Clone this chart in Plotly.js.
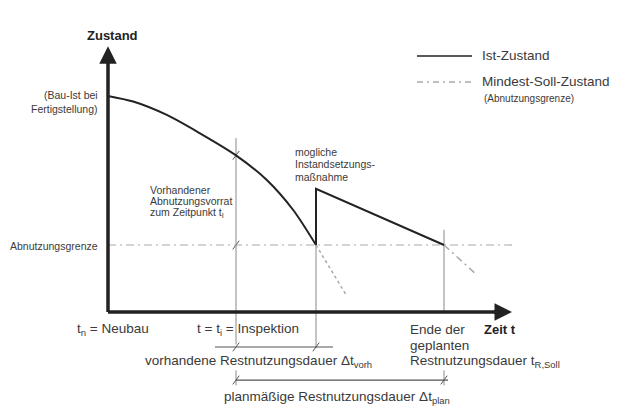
<!DOCTYPE html>
<html>
<head>
<meta charset="utf-8">
<script src="https://cdn.plot.ly/plotly-3.0.1.min.js"></script>
<style>html,body{margin:0;padding:0;background:#fff;}#chart{width:624px;height:417px;}</style>
</head>
<body>
<div id="chart"></div>
<script>
// ---- data (time t, state Z; schematic units) ----
const tNeubau = 0;
const tInspektion = 32;
const tInstandsetzung = 52;
const tEnde = 84;
const zStart = 100;
const zGrenze = 31;
const zNachInstandsetzung = 57;

const curveT = [0, 6.3, 14.7, 23, 32, 39.7, 46.3, 52];
const curveZ = [100, 97.4, 91.2, 82.7, 72.5, 61.1, 47.2, 31];
const repairT = [52, 52, 84];
const repairZ = [31, 57, 31];
const limitT = [0, 101];
const dottedT = [52, 59.5];
const dottedZ = [31, 8];
const extT = [84, 92];
const extZ = [31, 17.5];
const axisTopZ = 123;
const axisEndT = 101;

// guide lines (t, from Z, to Z)
const guideT = [32, 32, 52, 84, 84];
const guideZ0 = [80.5, -27, 31, 38, -27];
const guideZ1 = [-15, -34, -16.7, 0, -34];

// brackets
const vorhZ = -16.2, vorhT = [26.75, 56.25];
const planZ = -31.5, planT = [32, 85];

// tick marks (slashes)
const tickT = [32, 32, 32, 52, 32, 84];
const tickZ = [72.5, 31, -16.2, -16.2, -31.5, -31.5];

const labels = {
  zustand: "<b>Zustand</b>",
  zeit: "<b>Zeit t</b>",
  bauIst: ["(Bau-Ist bei", "Fertigstellung)"],
  grenze: "Abnutzungsgrenze",
  vorrat: ["Vorhandener", "Abnutzungsvorrat", "zum Zeitpunkt t<sub>I</sub>"],
  moegl: ["mogliche", "Instandsetzungs-", "maßnahme"],
  legIst: "Ist-Zustand",
  legSoll: "Mindest-Soll-Zustand",
  legSollSub: "(Abnutzungsgrenze)",
  neubau: "t<sub>n</sub> = Neubau",
  insp: "t = t<sub>i</sub> = Inspektion",
  ende: ["Ende der", "geplanten", "Restnutzungsdauer t<sub>R,Soll</sub>"],
  vorh: "vorhandene Restnutzungsdauer Δt<sub>vorh</sub>",
  plan: "planmäßige Restnutzungsdauer Δt<sub>plan</sub>"
};

// ---- build traces ----
const dark = '#222';
const grey = '#8a8a8a';
const lightGrey = '#aaaaaa';
const textCol = '#3a3a3a';

function segs(xs0, ys0, xs1, ys1) {
  const x = [], y = [];
  for (let i = 0; i < xs0.length; i++) { x.push(xs0[i], xs1[i], null); y.push(ys0[i], ys1[i], null); }
  return {x, y};
}

const g = segs(guideT, guideZ0, guideT, guideZ1);
const tk = segs(tickT.map(t => t - 0.8), tickZ.map(z => z - 2), tickT.map(t => t + 0.8), tickZ.map(z => z + 2));

const traces = [
  {x: g.x, y: g.y, mode: 'lines', line: {color: grey, width: 1}},
  {x: [vorhT[0], vorhT[1], null, planT[0], planT[1]], y: [vorhZ, vorhZ, null, planZ, planZ], mode: 'lines', line: {color: '#555', width: 1.2}},
  {x: tk.x, y: tk.y, mode: 'lines', line: {color: '#555', width: 1}},
  {x: limitT, y: [zGrenze, zGrenze], mode: 'lines', line: {color: lightGrey, width: 1.2, dash: '8px,4px,2px,4px'}},
  {x: dottedT, y: dottedZ, mode: 'lines', line: {color: lightGrey, width: 1.5, dash: 'dot'}},
  {x: extT, y: extZ, mode: 'lines', line: {color: lightGrey, width: 1.5, dash: '7px,4px,2px,4px'}},
  {x: curveT, y: curveZ, mode: 'lines', line: {color: dark, width: 2, shape: 'spline', smoothing: 0.8}},
  {x: repairT, y: repairZ, mode: 'lines', line: {color: dark, width: 2}},
  // axes
  {x: [tNeubau, tNeubau, null, tNeubau, axisEndT - 3], y: [axisTopZ - 5, 0, null, 0, 0], mode: 'lines', line: {color: dark, width: 3.5}},
  // legend samples
  {x: [77.25, 91], y: [118.5, 118.5], mode: 'lines', line: {color: dark, width: 1.5}},
  {x: [77.25, 91], y: [106.5, 106.5], mode: 'lines', line: {color: lightGrey, width: 1.5, dash: '6px,4px,2px,4px'}}
];
traces.forEach(t => { t.showlegend = false; t.hoverinfo = 'skip'; t.type = 'scatter'; });

const fam = 'Liberation Sans, Arial, sans-serif';
function ann(text, x, y, xanchor, size, extra) {
  return Object.assign({text, x, y, xref: 'x', yref: 'y', xanchor, yanchor: 'middle', showarrow: false,
    font: {family: fam, size, color: textCol}, align: xanchor === 'right' ? 'right' : 'left'}, extra || {});
}

const annotations = [
  // axis arrow heads
  {x: tNeubau, y: axisTopZ, ax: tNeubau, ay: axisTopZ - 8, axref: 'x', ayref: 'y', xref: 'x', yref: 'y', text: '', showarrow: true, arrowhead: 2, arrowsize: 1, arrowwidth: 3.5, arrowcolor: dark},
  {x: axisEndT, y: 0, ax: axisEndT - 5, ay: 0, axref: 'x', ayref: 'y', xref: 'x', yref: 'y', text: '', showarrow: true, arrowhead: 2, arrowsize: 1, arrowwidth: 3.5, arrowcolor: dark},
  ann(labels.zustand, 1, 127.8, 'center', 13, {font: {family: fam, size: 13, color: '#222'}}),
  ann(labels.zeit, 93.5, -8.3, 'left', 13, {font: {family: fam, size: 13, color: '#222'}}),
  ann(labels.bauIst[0], -2, 100.5, 'right', 10.5),
  ann(labels.bauIst[1], -2, 94, 'right', 10.5),
  ann(labels.grenze, -2, 30.6, 'right', 10.5),
  ann(labels.vorrat[0], 10, 56.5, 'left', 10.5),
  ann(labels.vorrat[1], 10, 51.2, 'left', 10.5),
  ann(labels.vorrat[2], 10, 46, 'left', 10.5),
  ann(labels.moegl[0], 46.25, 74.1, 'left', 10.5),
  ann(labels.moegl[1], 46.25, 68.5, 'left', 10.5),
  ann(labels.moegl[2], 46.25, 62.5, 'left', 10.5),
  ann(labels.legIst, 93, 118.5, 'left', 13.5),
  ann(labels.legSoll, 93, 106.5, 'left', 13.5),
  ann(labels.legSollSub, 93.5, 99, 'left', 10),
  ann(labels.neubau, -8.25, -7.9, 'left', 13.5),
  ann(labels.insp, 21.75, -7.9, 'left', 13.5),
  ann(labels.ende[0], 75, -8.3, 'left', 13.5),
  ann(labels.ende[1], 75, -15.7, 'left', 13.5),
  ann(labels.ende[2], 75, -22.7, 'left', 13.5),
  ann(labels.vorh, 8.75, -23.1, 'left', 13.5),
  ann(labels.plan, 28.5, -39.4, 'left', 13.5)
];

const layout = {
  width: 624, height: 417,
  margin: {l: 0, r: 0, t: 0, b: 0, pad: 0},
  paper_bgcolor: '#fff', plot_bgcolor: '#fff',
  xaxis: {range: [-27, 129], visible: false, fixedrange: true},
  yaxis: {range: [-48.6, 144.4], visible: false, fixedrange: true},
  annotations, showlegend: false
};

Plotly.newPlot('chart', traces, layout, {staticPlot: true, displayModeBar: false});
</script>
</body>
</html>
